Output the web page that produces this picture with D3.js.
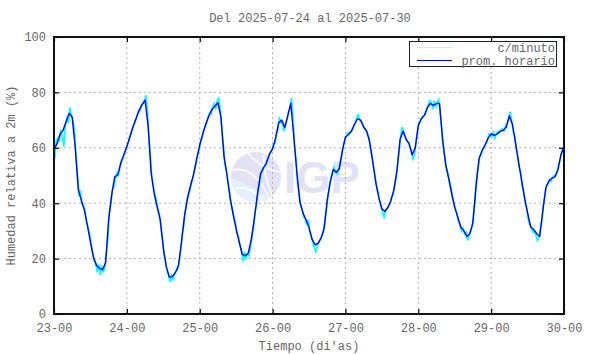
<!DOCTYPE html>
<html>
<head>
<meta charset="utf-8">
<script src="https://cdn.jsdelivr.net/npm/d3@7"></script>
<style>
  body { margin: 0; background: #fff; }
  text { font-family: "Liberation Mono", "DejaVu Sans Mono", monospace; }
</style>
</head>
<body>
<svg id="chart" width="590" height="354"></svg>
<script>
// tick labels on the time axis
const etiquetasDias = ["23-00", "24-00", "25-00", "26-00", "27-00", "28-00", "29-00", "30-00"];
const ticksY = [0, 20, 40, 60, 80, 100];

// promedio horario, one value per hour from 23-00 to 30-00
const promHorario = [
  // 23
  59.5, 61.5, 65, 66.3, 69.5, 72.5, 71, 60, 45, 41, 37.5, 32, 26, 20.5, 17.5, 16.5, 16, 18.5, 34, 43, 49.5, 50.2, 54.5, 57.5,
  // 24
  60.5, 64, 67.5, 70.5, 73.5, 75.5, 77.2, 68, 51, 43.5, 38.5, 34, 24, 17, 13.3, 13.5, 15, 17.5, 26, 35.5, 42, 46.5, 50.5, 56,
  // 25
  61, 65, 68.5, 71.5, 73.8, 75, 76.3, 71, 57, 50, 42, 36, 30.7, 26, 21.5, 21, 22, 27, 34.5, 43, 50.4, 52.8, 54.6, 57.8,
  // 26
  59.6, 63.5, 69, 70, 67.3, 71.5, 76, 64, 51, 40.5, 36.5, 34, 31.3, 27, 25, 25.5, 27.5, 31, 41, 47.7, 52.2, 51.2, 52.5, 59,
  // 27
  63.9, 64.8, 66, 68.5, 70.5, 70, 67.5, 66, 62, 55, 47.5, 42, 38, 37, 38.5, 41, 45, 52, 63, 66, 63, 61.5, 57.5, 60,
  // 28
  68, 70.5, 71.7, 74.5, 76, 75.3, 76, 76, 63, 54, 49, 43.5, 38.5, 35, 31.3, 30, 28, 29, 33, 45.8, 56, 59, 61, 63.5,
  // 29
  65, 64.5, 65, 66, 66.3, 67.5, 71.5, 68.5, 62, 55, 48.5, 42, 36.5, 31.5, 30.5, 29, 28, 37, 45.5, 48, 49, 49.5, 52, 57.5,
  // 30-00
  60.5
];

const cadaMinuto = [
  // 23
  56, 62.5, 63.5, 62, 66.5, 64, 60.5, 68, 70.5, 69, 74.5, 72, 70, 66, 57, 50, 43, 44, 40, 39, 37, 33, 31, 29,
  25, 22, 19, 18.5, 15, 18, 14, 17.5, 15, 17, 22, 27, 37, 40, 45, 46, 49, 51, 50, 53, 55.5, 56, 58, 59.5,
  // 24
  61, 63, 64.5, 66.5, 68, 69.5, 71, 73, 73, 75.5, 76, 76.5, 79, 74, 64, 57, 49, 46, 43, 41, 38, 36, 31, 27,
  21, 19, 15.5, 14, 11.5, 14, 12.5, 14.5, 15.5, 16, 19, 23, 29, 32, 37, 40, 43, 44.5, 47, 49, 52, 54, 57, 59,
  // 25
  62, 63.5, 66, 67.5, 69, 71, 72.5, 72, 74.5, 76, 74, 77, 78, 74.5, 67, 61, 54, 52.5, 48, 45, 40, 38, 35, 33,
  29, 28, 25, 23, 19, 22.5, 20, 21.5, 21, 24.5, 28, 31, 37, 39.5, 45, 47, 51, 52, 53, 53.5, 55.5, 57, 58, 59,
  // 26
  61, 61.5, 65, 66.5, 71, 69, 69, 66, 68, 70, 73, 74.5, 78, 71, 60, 56, 47, 44, 39, 38, 35, 34.5, 32, 34,
  30, 28, 26, 24, 22.5, 25, 26, 27, 28, 29.5, 34, 37.5, 43, 46, 49, 51, 53, 51, 50.5, 52, 55, 57, 60.5, 62.5,
  // 27
  64, 65.5, 65, 66, 67, 68, 69, 71, 72, 70, 69.5, 68.5, 67, 66.5, 65, 64, 60, 57, 53, 50, 46, 44, 41, 39,
  36.5, 35, 37.5, 38, 39, 40, 42.5, 43, 47, 49, 55, 59.5, 65, 67.5, 65.5, 64, 62.5, 62, 60, 58.5, 56, 57.5, 62, 66,
  // 28
  69, 70, 71, 71.5, 72, 74, 75.5, 77, 76.5, 74, 77, 74.5, 76.5, 77.5, 72, 67, 60, 57, 52.5, 51, 48, 46, 42, 40,
  38, 36, 33.5, 32.5, 30, 31, 29, 29.5, 26.5, 28.5, 30, 31.5, 37, 42, 50, 53, 57, 57.5, 59.5, 60.5, 61.5, 62.5, 65, 64.5,
  // 29
  64, 66, 63.5, 65, 66, 65.5, 66.5, 67, 66, 68, 69, 70.5, 73, 70, 66, 64.5, 60, 57, 53, 51, 46, 44, 40, 38,
  34, 32.5, 31, 29.5, 30, 28.5, 26.5, 27.5, 31, 34, 40, 43, 46.5, 47, 48.5, 48, 49.5, 50, 50, 51.5, 54, 56, 58.5, 60,
  // 30-00
  61
];

const svg = d3.select("#chart");
const width = 590, height = 354;
const margin = { top: 37, right: 26, bottom: 40, left: 54 };
const w = width - margin.left - margin.right;
const h = height - margin.top - margin.bottom;

const inicio = Date.UTC(2025, 6, 23);
const hora = 3600 * 1000;
const tiempoHora = promHorario.map((d, i) => new Date(inicio + i * hora));
const tiempoMin = cadaMinuto.map((d, i) =>
  new Date(inicio + (i === cadaMinuto.length - 1 ? i / 2 : i / 2 + 0.25) * hora));
const fechasTicks = etiquetasDias.map((d, i) => new Date(inicio + i * 24 * hora));

const x = d3.scaleUtc()
  .domain([fechasTicks[0], fechasTicks[fechasTicks.length - 1]])
  .range([margin.left, margin.left + w]);
const y = d3.scaleLinear().domain([0, 100]).range([margin.top + h, margin.top]);

const gris = "#666";

// watermark
const marca = svg.append("g");
marca.append("circle").attr("cx", 256).attr("cy", 177).attr("r", 25).attr("fill", "#e2e2f4");
marca.append("path")
  .attr("d", "M231,178 A25,25 0 0,0 270,198 Q250,185 231,178 Z")
  .attr("fill", "#e4f0fb");
marca.append("path")
  .attr("d", "M232,170 Q255,165 270,200 M236,188 Q252,186 262,201 M248,153 Q262,170 281,172 M264,155 Q262,170 272,196")
  .attr("fill", "none").attr("stroke", "#fff").attr("stroke-width", 1.5);
marca.append("text").attr("x", 284).attr("y", 193)
  .style("font-family", "'Liberation Sans', Arial, sans-serif")
  .attr("font-weight", "bold").attr("font-size", 44).attr("fill", "#e2e2f4")
  .text("IGP");

// grid
svg.append("g").selectAll("line.gx")
  .data(fechasTicks.slice(1, -1)).enter().append("line")
  .attr("x1", d => x(d)).attr("x2", d => x(d))
  .attr("y1", margin.top).attr("y2", margin.top + h)
  .attr("stroke", "#b0b0b0").attr("stroke-width", 1).attr("stroke-dasharray", "2,3");
svg.append("g").selectAll("line.gy")
  .data(ticksY.slice(1, -1)).enter().append("line")
  .attr("x1", margin.left).attr("x2", margin.left + w)
  .attr("y1", d => y(d)).attr("y2", d => y(d))
  .attr("stroke", "#b0b0b0").attr("stroke-width", 1).attr("stroke-dasharray", "2,3");

// series
const lineaMin = d3.line().x((d, i) => x(tiempoMin[i])).y(d => y(d));
const lineaHora = d3.line().x((d, i) => x(tiempoHora[i])).y(d => y(d));

svg.append("path").datum(cadaMinuto)
  .attr("d", lineaMin).attr("fill", "none")
  .attr("stroke", "#00ffff").attr("stroke-width", 1.6);
svg.append("path").datum(promHorario)
  .attr("d", lineaHora).attr("fill", "none")
  .attr("stroke", "#0000ff").attr("stroke-width", 1.4).attr("stroke-linejoin", "round");

// axes (ticks drawn inward, like the original)
const ejeX = d3.axisBottom(x).tickValues(fechasTicks)
  .tickFormat((d, i) => etiquetasDias[i]).tickSize(-5).tickPadding(9);
const gx = svg.append("g").attr("transform", `translate(0,${margin.top + h})`).call(ejeX);
gx.select(".domain").remove();

const ejeXTop = d3.axisTop(x).tickValues(fechasTicks).tickFormat("").tickSize(-5);
const gxt = svg.append("g").attr("transform", `translate(0,${margin.top})`).call(ejeXTop);
gxt.select(".domain").remove();

const ejeY = d3.axisLeft(y).tickValues(ticksY).tickSize(-5).tickPadding(8);
const gy = svg.append("g").attr("transform", `translate(${margin.left},0)`).call(ejeY);
gy.select(".domain").remove();

const ejeYR = d3.axisRight(y).tickValues(ticksY).tickFormat("").tickSize(-5);
const gyr = svg.append("g").attr("transform", `translate(${margin.left + w},0)`).call(ejeYR);
gyr.select(".domain").remove();

svg.selectAll(".tick line").attr("stroke", "#000").attr("stroke-width", 1.2);
svg.selectAll(".tick text")
  .attr("font-size", 12).attr("fill", gris)
  .style("font-family", "'Liberation Mono', monospace");

// frame
svg.append("rect")
  .attr("x", margin.left).attr("y", margin.top).attr("width", w).attr("height", h)
  .attr("fill", "none").attr("stroke", "#111").attr("stroke-width", 2);

// legend
const leg = svg.append("g");
leg.append("rect").attr("x", 409.5).attr("y", 41.5).attr("width", 147).attr("height", 25)
  .attr("fill", "#fff").attr("stroke", "#222").attr("stroke-width", 1);
leg.append("line").attr("x1", 417).attr("x2", 452).attr("y1", 47.5).attr("y2", 47.5)
  .attr("stroke", "#aaffff").attr("stroke-width", 1.2);
leg.append("line").attr("x1", 417).attr("x2", 452).attr("y1", 60.5).attr("y2", 60.5)
  .attr("stroke", "#0000ff").attr("stroke-width", 1.2);
leg.append("text").attr("x", 555).attr("y", 51.5).attr("text-anchor", "end")
  .attr("font-size", 12).attr("fill", gris).text("c/minuto");
leg.append("text").attr("x", 555).attr("y", 64.5).attr("text-anchor", "end")
  .attr("font-size", 12).attr("fill", gris).text("prom. horario");

// titles
svg.append("text").attr("x", 310).attr("y", 22).attr("text-anchor", "middle")
  .attr("font-size", 12).attr("fill", gris).text("Del 2025-07-24 al 2025-07-30");
svg.append("text").attr("x", 309).attr("y", 350).attr("text-anchor", "middle")
  .attr("font-size", 12).attr("fill", gris).text("Tiempo (di'as)");
svg.append("text")
  .attr("transform", `translate(15,${margin.top + h / 2}) rotate(-90)`)
  .attr("text-anchor", "middle")
  .attr("font-size", 12).attr("fill", gris).text("Humedad relativa a 2m (%)");
</script>
</body>
</html>
